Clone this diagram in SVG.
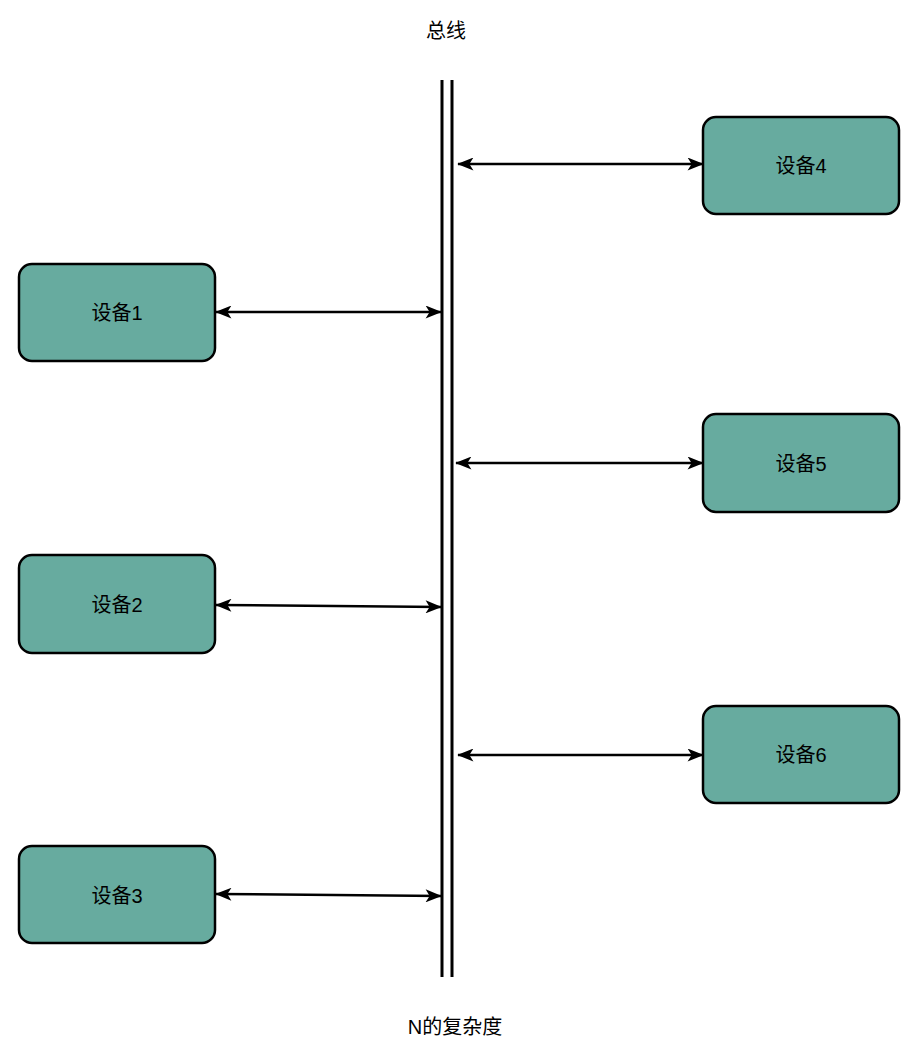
<svg xmlns="http://www.w3.org/2000/svg" width="923" height="1059" viewBox="0 0 923 1059">
<defs>
<style>
.box{fill:#67AB9F;stroke:#000;stroke-width:2.5}
.lbl{font-family:"Liberation Sans","Noto Sans CJK SC",sans-serif;font-size:20px;fill:#000;text-anchor:middle;dominant-baseline:central}
.bus{stroke:#000;stroke-width:3}
.conn{stroke:#000;stroke-width:2.5;fill:none;marker-start:url(#ah);marker-end:url(#ah)}
</style>
<marker id="ah" viewBox="0 0 20 16" refX="19" refY="8" markerWidth="17" markerHeight="13" markerUnits="userSpaceOnUse" orient="auto-start-reverse">
<path d="M0,0 L20,8 L0,16 L5,8 Z" fill="#000"/>
</marker>
</defs>
<text class="lbl" x="446" y="31">总线</text>
<text class="lbl" x="455" y="1027">N的复杂度</text>
<g id="bus">
<line class="bus" x1="442" y1="80" x2="442" y2="977"/>
<line class="bus" x1="452" y1="80" x2="452" y2="977"/>
</g>
<g id="connectors">
<line class="conn" x1="216" y1="312" x2="441" y2="312"/>
<line class="conn" x1="216" y1="605" x2="441" y2="607"/>
<line class="conn" x1="216" y1="894" x2="441" y2="896"/>
<line class="conn" x1="458" y1="164" x2="703" y2="164"/>
<line class="conn" x1="456" y1="463" x2="703" y2="463"/>
<line class="conn" x1="458" y1="755" x2="703" y2="755"/>
</g>
<g id="dev1"><rect class="box" x="19" y="264" width="196" height="97" rx="13"/><text class="lbl" x="117" y="313">设备1</text></g>
<g id="dev2"><rect class="box" x="19" y="555" width="196" height="98" rx="13"/><text class="lbl" x="117" y="605">设备2</text></g>
<g id="dev3"><rect class="box" x="19" y="846" width="196" height="97" rx="13"/><text class="lbl" x="117" y="896">设备3</text></g>
<g id="dev4"><rect class="box" x="703" y="117" width="196" height="97" rx="13"/><text class="lbl" x="801" y="166">设备4</text></g>
<g id="dev5"><rect class="box" x="703" y="414" width="196" height="98" rx="13"/><text class="lbl" x="801" y="464">设备5</text></g>
<g id="dev6"><rect class="box" x="703" y="706" width="196" height="97" rx="13"/><text class="lbl" x="801" y="755">设备6</text></g>
</svg>
